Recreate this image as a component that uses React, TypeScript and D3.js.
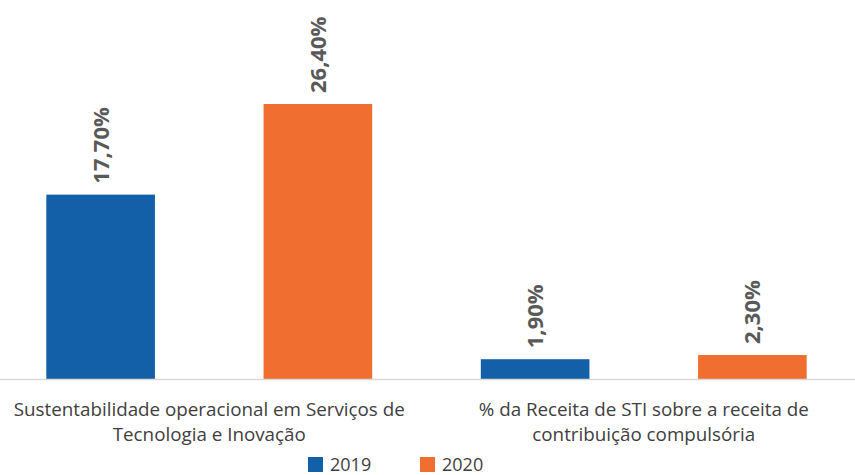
import React from "react";
import * as d3 from "d3";

const categories = [
  ["Sustentabilidade operacional em Serviços de", "Tecnologia e Inovação"],
  ["% da Receita de STI sobre a receita de", "contribuição compulsória"],
];
const seriesNames = ["2019", "2020"];
const values2019 = [17.7, 1.9];
const values2020 = [26.4, 2.3];
const colors = ["#1360a8", "#f06e30"];

const W = 855;
const H = 475;

export default function App() {
  const baseY = 379;
  const catIdx = categories.map((_, i) => String(i));
  const x0 = d3.scaleBand<string>().domain(catIdx).range([-8, 861]).padding(0);
  const x1 = d3
    .scaleBand<string>()
    .domain(seriesNames)
    .range([0, x0.bandwidth()])
    .paddingInner(0.5)
    .paddingOuter(0.25);
  const y = d3.scaleLinear().domain([0, 26.4]).range([baseY, 104]);
  const series = [values2019, values2020];
  const fmt = (v: number) => v.toFixed(2).replace(".", ",") + "%";

  return (
    <svg
      width={W}
      height={H}
      style={{ position: "absolute", left: 0, top: 0, background: "#fff" }}
    >
      {categories.map((cat, ci) => (
        <g key={ci} transform={`translate(${x0(String(ci))},0)`}>
          {seriesNames.map((s, si) => {
            const v = series[si][ci];
            const bx = x1(s)!;
            const bw = x1.bandwidth();
            return (
              <g key={s}>
                <rect
                  x={bx}
                  y={y(v)}
                  width={bw}
                  height={baseY - y(v)}
                  fill={colors[si]}
                />
                <text
                  transform={`translate(${bx + bw / 2 + 8},${y(v) - 11}) rotate(-90)`}
                  fontFamily="'Open Sans', sans-serif"
                  fontWeight="bold"
                  fontSize={22}
                  fill="#595959"
                >
                  {fmt(v)}
                </text>
              </g>
            );
          })}
          {cat.map((line, li) => (
            <text
              key={li}
              x={x0.bandwidth() / 2}
              y={416 + li * 25}
              textAnchor="middle"
              fontFamily="'Open Sans', sans-serif"
              fontSize={18.8}
              fill="#404040"
            >
              {line}
            </text>
          ))}
        </g>
      ))}
      <line x1={0} x2={W} y1={baseY + 0.5} y2={baseY + 0.5} stroke="#d9d9d9" strokeWidth={1.5} />
      {seriesNames.map((s, si) => (
        <g key={s} transform={`translate(${308 + si * 112},457)`}>
          <rect x={0} y={0} width={15} height={15} fill={colors[si]} />
          <text
            x={22}
            y={14}
            fontFamily="'Open Sans', sans-serif"
            fontSize={18}
            fill="#404040"
          >
            {s}
          </text>
        </g>
      ))}
    </svg>
  );
}
